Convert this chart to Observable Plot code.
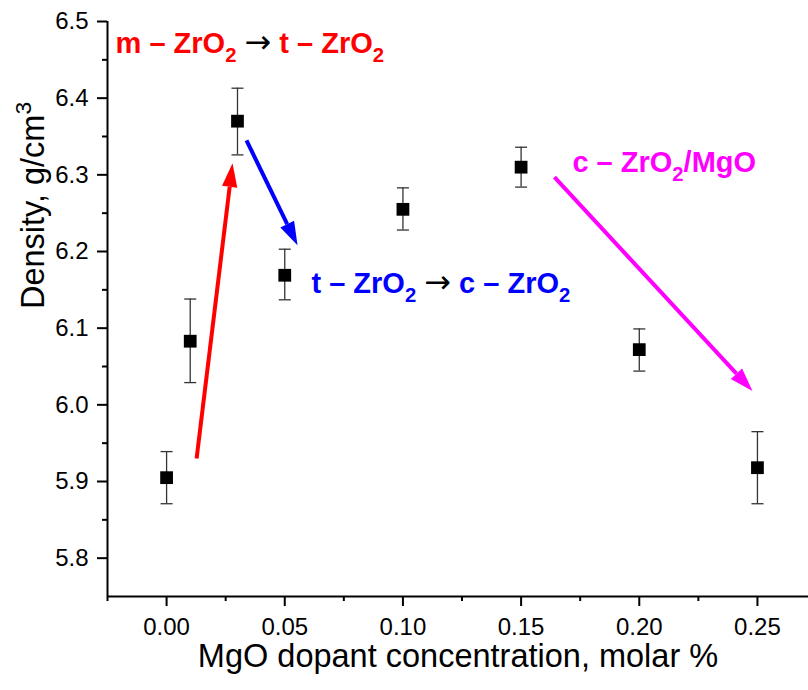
<!DOCTYPE html>
<html><head><meta charset="utf-8">
<script src="https://cdn.jsdelivr.net/npm/d3@7"></script>
<script src="https://cdn.jsdelivr.net/npm/@observablehq/plot@0.6"></script>
<style>body{margin:0;background:#fff}</style>
</head><body><div id="chart"></div>
<script>
// ---- data ----
const concentration = [0.00, 0.01, 0.03, 0.05, 0.10, 0.15, 0.20, 0.25];
const density       = [5.905, 6.083, 6.370, 6.169, 6.255, 6.310, 6.072, 5.918];
const errLow        = [5.871, 6.029, 6.326, 6.137, 6.228, 6.284, 6.044, 5.871];
const errHigh       = [5.939, 6.138, 6.413, 6.203, 6.283, 6.336, 6.099, 5.965];

const xTicks = [0.00, 0.05, 0.10, 0.15, 0.20, 0.25];
const xMinorTicks = [-0.025, 0.025, 0.075, 0.125, 0.175, 0.225];
const yTicks = [5.8, 5.9, 6.0, 6.1, 6.2, 6.3, 6.4, 6.5];
const yMinorTicks = [5.85, 5.95, 6.05, 6.15, 6.25, 6.35, 6.45];

const arrowX1 = [0.0127, 0.0338, 0.1641];
const arrowY1 = [5.930, 6.345, 6.297];
const arrowX2 = [0.0279, 0.0554, 0.2479];
const arrowY2 = [6.315, 6.208, 6.018];
const arrowColor = ["#ff0000", "#0000ff", "#ff00ff"];

const noteText  = ["m – ZrO_2 → t – ZrO_2", "t – ZrO_2 → c – ZrO_2", "c – ZrO_2/MgO"];
const noteX     = [-0.0216, 0.0613, 0.1717];
const noteY     = [6.4704, 6.158, 6.3155];
const noteColor = ["#ff0000", "#0000ff", "#ff00ff"];

const xLabel = "MgO dopant concentration, molar %";
const yLabel = "Density, g/cm^3";

// ---- tables ----
const points = concentration.map((c, i) => ({x: c, y: density[i], lo: errLow[i], hi: errHigh[i]}));
const arrows = arrowX1.map((v, i) => ({x1: v, y1: arrowY1[i], x2: arrowX2[i], y2: arrowY2[i], color: arrowColor[i]}));
const notes = noteText.map((t, i) => ({text: t, x: noteX[i], y: noteY[i], color: noteColor[i]}));

const capSymbol = {draw(ctx, size) { const w = Math.sqrt(size / Math.PI); ctx.moveTo(-w, 0); ctx.lineTo(w, 0); }};

const plot = Plot.plot({
  width: 808, height: 690,
  marginLeft: 107, marginRight: 0, marginTop: 21, marginBottom: 94,
  style: {fontFamily: '"Liberation Sans", Arial, sans-serif', background: "#fff", color: "#000"},
  x: {domain: [-0.025, 0.2716]},
  y: {domain: [5.75, 6.5]},
  color: {type: "identity"},
  marks: [
    Plot.axisX(xMinorTicks, {tickSize: 5, tickFormat: () => "", strokeWidth: 2, label: null}),
    Plot.axisX(xTicks, {tickSize: 10, tickPadding: 11, tickFormat: d3.format(".2f"), fontSize: 24, strokeWidth: 2, label: null}),
    Plot.axisY(yMinorTicks, {tickSize: 5, tickFormat: () => "", strokeWidth: 2, label: null}),
    Plot.axisY(yTicks, {tickSize: 10, tickPadding: 9, tickFormat: d3.format(".1f"), fontSize: 24, strokeWidth: 2, label: null}),
    Plot.ruleY([5.75], {strokeWidth: 2}),
    Plot.ruleX([-0.025], {strokeWidth: 2}),
    Plot.ruleX(points, {x: "x", y1: "lo", y2: "hi", stroke: "#333", strokeWidth: 1.3}),
    Plot.dot(points, {x: "x", y: "lo", symbol: capSymbol, r: 6, stroke: "#333", fill: "none", strokeWidth: 1.3}),
    Plot.dot(points, {x: "x", y: "hi", symbol: capSymbol, r: 6, stroke: "#333", fill: "none", strokeWidth: 1.3}),
    Plot.dot(points, {x: "x", y: "y", symbol: "square", r: 7.2, fill: "#000", stroke: "none"}),
    Plot.arrow(arrows, {x1: "x1", y1: "y1", x2: "x2", y2: "y2", stroke: "color", strokeWidth: 4, headLength: 9.3, headAngle: 36, strokeLinecap: "butt", strokeLinejoin: "miter"}),
    Plot.text(notes, {x: "x", y: "y", text: "text", fill: "color", fontSize: 29, fontWeight: "bold", textAnchor: "start"}),
    Plot.text([xLabel], {frameAnchor: "bottom", text: d => d, dy: 70, fontSize: 32.5, fill: "#000"}),
    Plot.text([yLabel], {frameAnchor: "left", text: d => d, rotate: -90, dx: -74, fontSize: 32.5, fill: "#000"})
  ]
});
document.getElementById("chart").appendChild(plot);

// ---- rich text: subscripts, superscripts, black arrow glyph ----
const NS = "http://www.w3.org/2000/svg";
plot.querySelectorAll("text").forEach(el => {
  const s = el.textContent;
  if (!/[_^→]/.test(s)) return;
  const fs = parseFloat(getComputedStyle(el).fontSize) || 16;
  el.textContent = "";
  let shift = 0;
  const add = (txt, opt = {}) => {
    const t = document.createElementNS(NS, "tspan");
    t.textContent = txt;
    const target = opt.shift || 0;
    if (target !== shift) { t.setAttribute("dy", (target - shift).toFixed(2)); shift = target; }
    if (opt.size) t.setAttribute("font-size", opt.size);
    if (opt.fill) t.setAttribute("fill", opt.fill);
    if (opt.weight) t.setAttribute("font-weight", opt.weight);
    if (opt.family) t.setAttribute("font-family", opt.family);
    el.appendChild(t);
  };
  let buf = "";
  for (let i = 0; i < s.length; i++) {
    const ch = s[i];
    if (ch === "_" || ch === "^") {
      if (buf) { add(buf); buf = ""; }
      add(s[++i], {shift: ch === "_" ? fs * 0.3 : -fs * 0.4, size: fs * 0.7});
    } else if (ch === "→") {
      if (buf) { add(buf); buf = ""; }
      add("→", {fill: "#000", weight: "normal", family: '"DejaVu Sans", sans-serif', size: fs * 1.1});
    } else buf += ch;
  }
  if (buf) add(buf);
});

// ---- filled arrow heads ----
plot.querySelectorAll('g[aria-label="arrow"] path').forEach(p => {
  const n = (p.getAttribute("d").match(/-?\d*\.?\d+(?:e-?\d+)?/g) || []).map(Number);
  if (n.length < 10) return;
  const x1 = n[0], y1 = n[1], x2 = n[2], y2 = n[3];
  const wings = [];
  for (let k = 4; k + 1 < n.length; k += 2) {
    if (Math.hypot(n[k] - x2, n[k + 1] - y2) > 0.5) wings.push([n[k], n[k + 1]]);
  }
  if (wings.length < 2) return;
  const [[lx, ly], [rx, ry]] = wings;
  const bx = (lx + rx) / 2, by = (ly + ry) / 2;
  p.setAttribute("d", `M${x1},${y1}L${bx},${by}`);
  const col = p.getAttribute("stroke") || getComputedStyle(p).stroke;
  const h = document.createElementNS(NS, "path");
  h.setAttribute("d", `M${x2},${y2}L${lx},${ly}L${rx},${ry}Z`);
  h.setAttribute("fill", col);
  h.setAttribute("stroke", "none");
  p.parentNode.appendChild(h);
});
</script>
</body></html>
